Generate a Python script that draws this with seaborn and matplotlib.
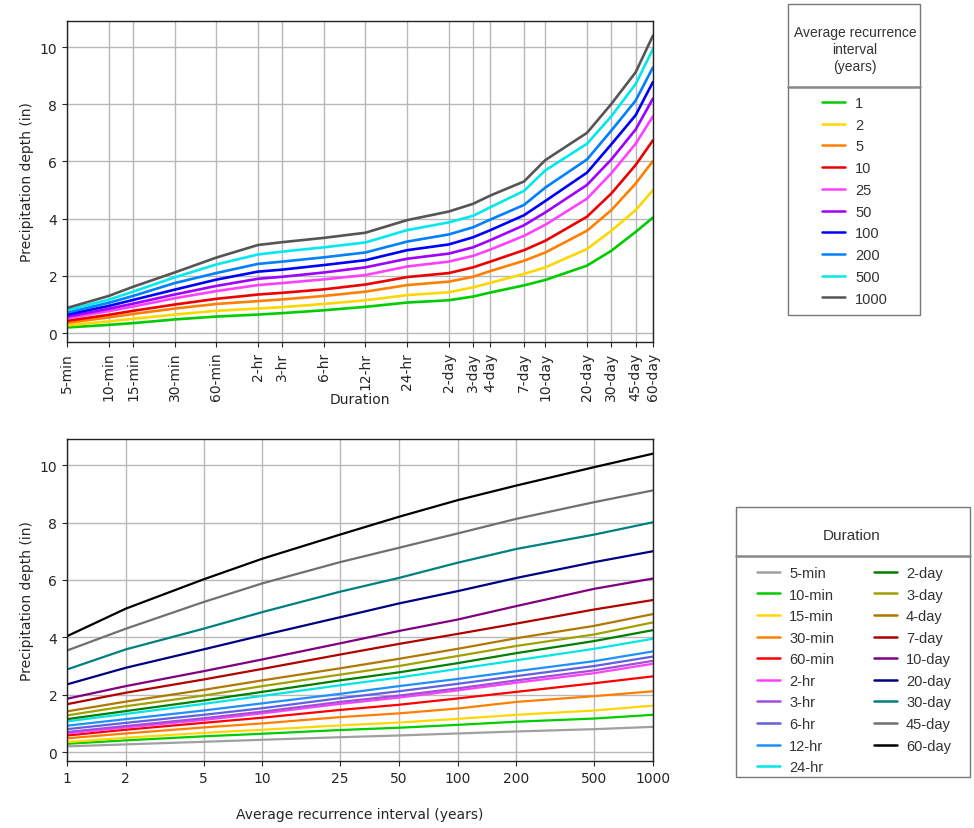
import pandas as pd
import matplotlib
matplotlib.use("Agg")
import matplotlib.pyplot as plt
from matplotlib.lines import Line2D
from matplotlib.patches import Rectangle
import seaborn as sns

# durations (label and length in minutes)
durations = ["5-min", "10-min", "15-min", "30-min", "60-min", "2-hr", "3-hr", "6-hr",
             "12-hr", "24-hr", "2-day", "3-day", "4-day", "7-day", "10-day", "20-day",
             "30-day", "45-day", "60-day"]
minutes = [5, 10, 15, 30, 60, 120, 180, 360, 720, 1440, 2880, 4320, 5760, 10080,
           14400, 28800, 43200, 64800, 86400]

aris = [1, 2, 5, 10, 25, 50, 100, 200, 500, 1000]

# precipitation depth (in) per ARI, one value per duration
depth_1 = [0.20, 0.29, 0.35, 0.48, 0.58, 0.65, 0.70, 0.80, 0.92, 1.07, 1.15, 1.28, 1.42, 1.67, 1.86, 2.36, 2.88, 3.54, 4.04]
depth_2 = [0.27, 0.41, 0.50, 0.65, 0.78, 0.86, 0.91, 1.02, 1.15, 1.33, 1.43, 1.60, 1.76, 2.07, 2.30, 2.94, 3.58, 4.30, 5.00]
depth_5 = [0.36, 0.55, 0.67, 0.86, 1.02, 1.12, 1.18, 1.30, 1.45, 1.68, 1.80, 1.97, 2.17, 2.53, 2.82, 3.58, 4.30, 5.23, 6.02]
depth_10 = [0.43, 0.64, 0.78, 1.00, 1.20, 1.35, 1.41, 1.53, 1.70, 1.96, 2.10, 2.30, 2.50, 2.90, 3.23, 4.07, 4.88, 5.88, 6.74]
depth_25 = [0.52, 0.77, 0.93, 1.22, 1.47, 1.68, 1.75, 1.88, 2.03, 2.33, 2.50, 2.70, 2.92, 3.40, 3.79, 4.70, 5.59, 6.62, 7.58]
depth_50 = [0.58, 0.85, 1.03, 1.35, 1.65, 1.90, 1.97, 2.12, 2.30, 2.60, 2.78, 3.00, 3.25, 3.77, 4.22, 5.18, 6.07, 7.12, 8.20]
depth_100 = [0.65, 0.95, 1.16, 1.52, 1.87, 2.15, 2.22, 2.38, 2.55, 2.90, 3.10, 3.35, 3.60, 4.12, 4.62, 5.61, 6.60, 7.62, 8.78]
depth_200 = [0.72, 1.06, 1.30, 1.75, 2.10, 2.42, 2.50, 2.65, 2.82, 3.20, 3.45, 3.70, 3.97, 4.48, 5.09, 6.07, 7.08, 8.13, 9.29]
depth_500 = [0.80, 1.17, 1.45, 1.95, 2.40, 2.75, 2.85, 3.00, 3.17, 3.60, 3.87, 4.10, 4.40, 4.97, 5.69, 6.62, 7.58, 8.71, 9.93]
depth_1000 = [0.88, 1.30, 1.62, 2.12, 2.64, 3.08, 3.18, 3.33, 3.51, 3.95, 4.25, 4.52, 4.81, 5.30, 6.05, 7.00, 8.01, 9.12, 10.40]

depth_table = [depth_1, depth_2, depth_5, depth_10, depth_25, depth_50,
               depth_100, depth_200, depth_500, depth_1000]

ari_colors = ["#00cc00", "#ffd700", "#ff8000", "#ee0000", "#ff40ff", "#a000ff",
              "#0000ff", "#0080ff", "#00e8f0", "#555555"]
dur_colors = ["#a0a0a0", "#00cc00", "#ffd700", "#ff8000", "#ff0000", "#ff40ff",
              "#a050d8", "#6060e0", "#1e90ff", "#00e5e5", "#008000", "#a0a000",
              "#b07800", "#b00000", "#800080", "#000080", "#008080", "#707070",
              "#000000"]

rows = []
for ari, vals in zip(aris, depth_table):
    for dur, mins, v in zip(durations, minutes, vals):
        rows.append({"ari": ari, "ari_label": str(ari), "duration": dur,
                     "minutes": mins, "depth": v})
df = pd.DataFrame(rows)

sns.set_style("whitegrid", {"axes.edgecolor": "#222222", "grid.color": "#b8b8b8",
                            "xtick.bottom": True, "ytick.left": True})
plt.rcParams["font.family"] = ["DejaVu Sans"]
plt.rcParams["axes.linewidth"] = 1.0

fig = plt.figure(figsize=(9.74, 8.29), dpi=100)
ax1 = fig.add_axes([0.0688, 0.5862, 0.6016, 0.3873])
ax2 = fig.add_axes([0.0688, 0.0808, 0.6016, 0.3884])

# top: depth vs duration, one line per ARI
sns.lineplot(data=df, x="minutes", y="depth", hue="ari_label",
             hue_order=[str(a) for a in aris], palette=ari_colors,
             legend=False, errorbar=None, lw=1.9, ax=ax1)
ax1.set_xscale("log")
ax1.set_xlim(minutes[0], minutes[-1])
ax1.set_xticks(minutes)
ax1.set_xticklabels(durations, rotation=90, fontsize=10)
ax1.minorticks_off()
ax1.set_xlabel("Duration", fontsize=10)
ax1.xaxis.set_label_coords(0.5, -0.155)
ax1.xaxis.label.set_va("top")
ax1.set_ylabel("Precipitation depth (in)", fontsize=10)

# bottom: depth vs ARI, one line per duration
sns.lineplot(data=df, x="ari", y="depth", hue="duration",
             hue_order=durations, palette=dur_colors,
             legend=False, errorbar=None, lw=1.6, ax=ax2)
ax2.set_xscale("log")
ax2.set_xlim(aris[0], aris[-1])
ax2.set_xticks(aris)
ax2.set_xticklabels([str(a) for a in aris], fontsize=10)
ax2.minorticks_off()
ax2.set_xlabel("Average recurrence interval (years)", fontsize=10)
ax2.xaxis.set_label_coords(0.5, -0.143)
ax2.xaxis.label.set_va("top")
ax2.set_ylabel("Precipitation depth (in)", fontsize=10)

for ax in (ax1, ax2):
    ax.set_yticks([0, 2, 4, 6, 8, 10])
    ax.tick_params(axis="y", labelsize=10, length=3.5)
    ax.tick_params(axis="x", length=3.5)
    ax.grid(True, color="#b8b8b8", lw=1.0)
    for s in ax.spines.values():
        s.set_color("#222222")

W, H = 974.0, 829.0
leg_font = {"family": "Liberation Sans", "size": 10.5}

# legend box for ARI
fig.add_artist(Rectangle((788 / W, 1 - 316 / H), 132 / W, 311 / H,
                         transform=fig.transFigure, fill=False,
                         edgecolor="#777777", lw=1.0))
fig.add_artist(Line2D([788 / W, 920 / W], [1 - 88 / H, 1 - 88 / H],
                      transform=fig.transFigure, color="#888888", lw=1.8))
fig.text(855 / W, 1 - 50 / H, "Average recurrence\ninterval\n(years)",
         ha="center", va="center", color="#333333", linespacing=1.3,
         fontdict={"family": "Liberation Sans", "size": 10})
ari_handles = [Line2D([], [], color=c, lw=1.8) for c in ari_colors]
fig.legend(ari_handles, [str(a) for a in aris], loc="upper left",
           bbox_to_anchor=(822 / W, 1 - 97 / H), frameon=False, prop=leg_font,
           borderpad=0, borderaxespad=0, handlelength=1.6, handletextpad=0.68,
           labelspacing=0.53, labelcolor="#333333")

# legend box for duration
fig.add_artist(Rectangle((736 / W, 1 - 778 / H), 234 / W, 270 / H,
                         transform=fig.transFigure, fill=False,
                         edgecolor="#777777", lw=1.0))
fig.add_artist(Line2D([736 / W, 970 / W], [1 - 557 / H, 1 - 557 / H],
                      transform=fig.transFigure, color="#888888", lw=1.8))
fig.text(852 / W, 1 - 536 / H, "Duration", ha="center", va="center",
         fontdict={"family": "Liberation Sans", "size": 11}, color="#333333")
dur_handles = [Line2D([], [], color=c, lw=1.8) for c in dur_colors]
fig.legend(dur_handles, durations, loc="upper left", ncol=2,
           bbox_to_anchor=(757 / W, 1 - 567 / H), frameon=False, prop=leg_font,
           borderpad=0, borderaxespad=0, handlelength=1.6, handletextpad=0.62,
           labelspacing=0.52, columnspacing=2.7, labelcolor="#333333")

fig.savefig("out.png", dpi=100)
